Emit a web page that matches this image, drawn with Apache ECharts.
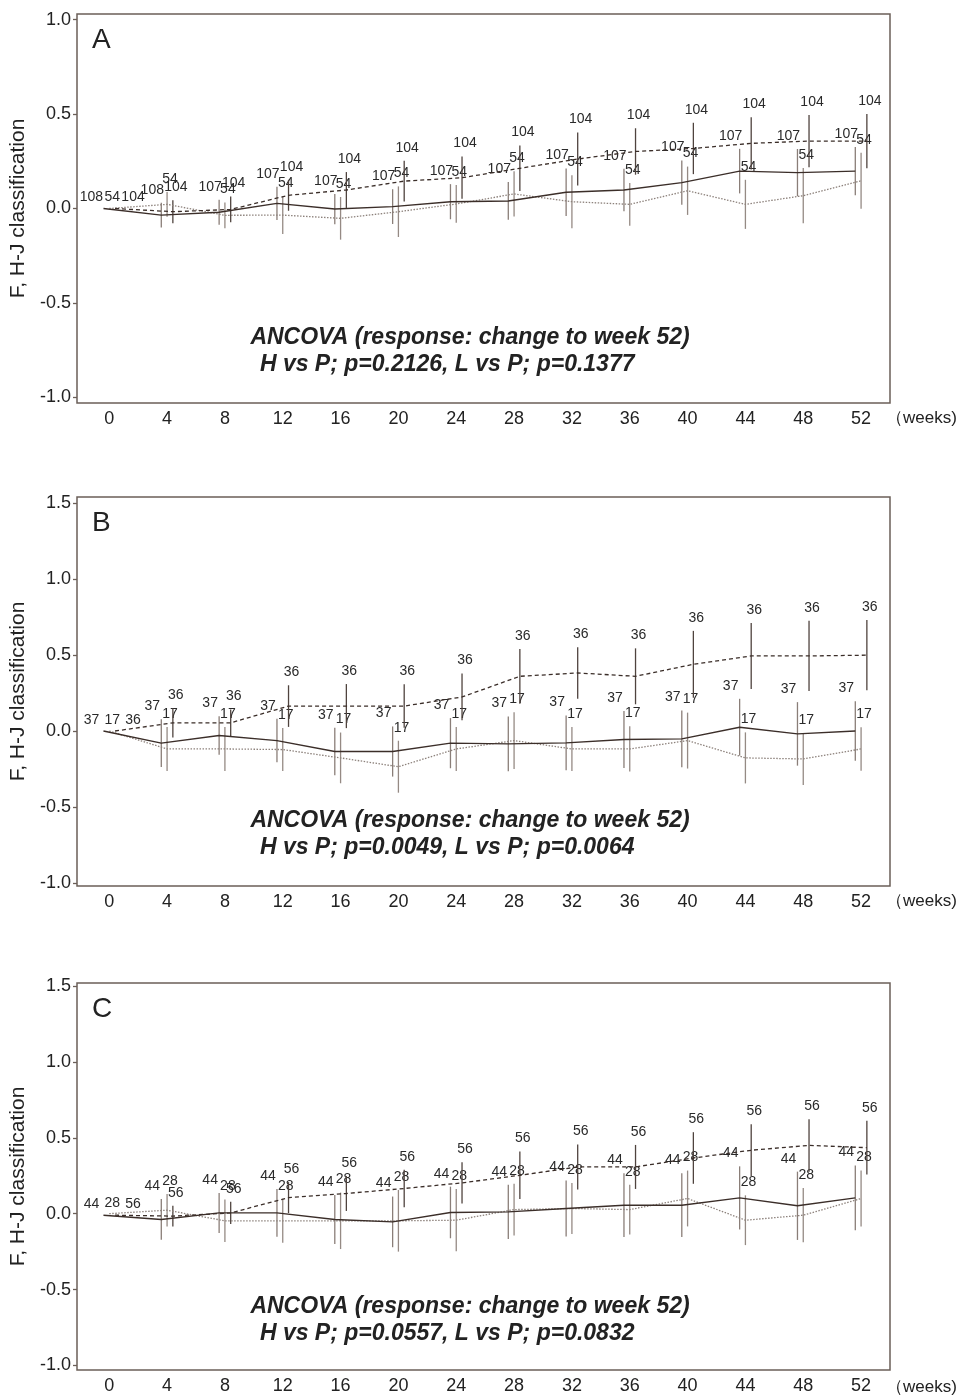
<!DOCTYPE html>
<html><head><meta charset="utf-8">
<script src="https://cdn.jsdelivr.net/npm/echarts@6/dist/echarts.min.js"></script>
<style>html,body{margin:0;padding:0;background:#fff}#c{width:960px;height:1395px}</style>
</head><body><div id="c"></div>
<script>
// ---------------- DATA ----------------
const weeks = [0,4,8,12,16,20,24,28,32,36,40,44,48,52];
const xTickLabels = [0,4,8,12,16,20,24,28,32,36,40,44,48,52];
const yTicksA = [-1,-0.5,0,0.5,1];
const yTicksBC = [-1,-0.5,0,0.5,1,1.5];
const yAxisTitle = 'F, H-J classification';
const unitLabel = '（weeks)';
const panelLetters = ['A','B','C'];
const ancovaTitle = 'ANCOVA (response: change to week 52)';
const pValueLines = [
  ' H vs P; p=0.2126, L vs P; p=0.1377',
  ' H vs P; p=0.0049, L vs P; p=0.0064',
  ' H vs P; p=0.0557, L vs P; p=0.0832'
];

// Panel A  (L = solid, P = dotted, H = dashed)
const A_L_mean = [0,-0.035,-0.02,0.027,-0.003,0.01,0.036,0.04,0.086,0.098,0.137,0.198,0.19,0.198];
const A_L_err  = [0,0.066,0.066,0.088,0.08,0.092,0.093,0.1,0.126,0.112,0.117,0.118,0.125,0.128];
const A_L_n    = [108,108,107,107,107,107,107,107,107,107,107,107,107,107];
const A_P_mean = [0,0.022,-0.036,-0.035,-0.052,-0.017,0.024,0.077,0.036,0.022,0.094,0.022,0.068,0.147];
const A_P_err  = [0,0.066,0.068,0.1,0.113,0.134,0.1,0.12,0.14,0.113,0.128,0.13,0.146,0.148];
const A_P_n    = [54,54,54,54,54,54,54,54,54,54,54,54,54,54];
const A_H_mean = [0,-0.017,-0.005,0.07,0.098,0.145,0.163,0.213,0.262,0.302,0.318,0.345,0.357,0.357];
const A_H_err  = [0,0.061,0.068,0.082,0.095,0.108,0.112,0.12,0.14,0.123,0.136,0.138,0.138,0.144];
const A_H_n    = [104,104,104,104,104,104,104,104,104,104,104,104,104,104];

// Panel B
const B_L_mean = [0,-0.08,-0.03,-0.063,-0.135,-0.135,-0.08,-0.085,-0.078,-0.056,-0.052,0.025,-0.019,0];
const B_L_err  = [0,0.157,0.127,0.143,0.156,0.165,0.165,0.18,0.18,0.187,0.187,0.187,0.209,0.196];
const B_L_n    = [37,37,37,37,37,37,37,37,37,37,37,37,37,37];
const B_P_mean = [0,-0.118,-0.118,-0.122,-0.177,-0.235,-0.118,-0.063,-0.118,-0.118,-0.063,-0.177,-0.184,-0.118];
const B_P_err  = [0,0.145,0.145,0.141,0.167,0.171,0.145,0.187,0.145,0.149,0.184,0.168,0.171,0.143];
const B_P_n    = [17,17,17,17,17,17,17,17,17,17,17,17,17,17];
const B_H_mean = [0,0.054,0.054,0.164,0.164,0.164,0.224,0.36,0.382,0.36,0.439,0.494,0.494,0.499];
const B_H_err  = [0,0.096,0.088,0.137,0.145,0.143,0.154,0.18,0.17,0.184,0.22,0.217,0.231,0.231];
const B_H_n    = [36,36,36,36,36,36,36,36,36,36,36,36,36,36];

// Panel C
const C_L_mean = [-0.01,-0.038,0.005,0.005,-0.038,-0.054,0.008,0.012,0.034,0.056,0.056,0.104,0.052,0.104];
const C_L_err  = [0,0.134,0.132,0.157,0.161,0.167,0.17,0.178,0.184,0.21,0.21,0.208,0.225,0.213];
const C_L_n    = [44,44,44,44,44,44,44,44,44,44,44,44,44,44];
const C_P_mean = [0,0.023,-0.047,-0.047,-0.047,-0.047,-0.043,0.027,0.034,0.027,0.1,-0.043,-0.01,0.1];
const C_P_err  = [0,0.107,0.14,0.145,0.186,0.203,0.205,0.17,0.168,0.164,0.184,0.164,0.179,0.184];
const C_P_n    = [28,28,28,28,28,28,28,28,28,28,28,28,28,28];
const C_H_mean = [-0.01,-0.016,0.005,0.106,0.133,0.166,0.203,0.253,0.308,0.308,0.367,0.418,0.45,0.435];
const C_H_err  = [0,0.068,0.073,0.102,0.115,0.123,0.136,0.157,0.148,0.145,0.17,0.171,0.173,0.177];
const C_H_n    = [56,56,56,56,56,56,56,56,56,56,56,56,56,56];

// ---------------- STYLE / LAYOUT ----------------
const FONT = '"Liberation Sans", Arial, Helvetica, sans-serif';
const BOX = '#6b5f58';
const GRID_LEFT = 77, GRID_W = 813, GRID_H = 389;
const panelTops = [14, 497, 983];
const yRanges = [[-1.03, 1.03], [-1.02, 1.54], [-1.03, 1.52]];
const yTickSets = [yTicksA, yTicksBC, yTicksBC];
const X_MIN = -2.23, X_MAX = 54;

const groupStyles = {
  L: {dodge: -0.4, line: {color: '#3b2e29', width: 1.4, type: 'solid'}, bar: '#8a7e78', labelDx: -9, zeroDx: -12},
  P: {dodge: 0,    line: {color: '#8d827c', width: 1.3, type: [1.5, 1.5]}, bar: '#958a84', labelDx: 3, zeroDx: 3},
  H: {dodge: 0.4,  line: {color: '#3b2e29', width: 1.3, type: [4, 3]}, bar: '#4f433e', labelDx: 3, zeroDx: 18}
};

const panelData = [
  {L: [A_L_mean, A_L_err, A_L_n], P: [A_P_mean, A_P_err, A_P_n], H: [A_H_mean, A_H_err, A_H_n]},
  {L: [B_L_mean, B_L_err, B_L_n], P: [B_P_mean, B_P_err, B_P_n], H: [B_H_mean, B_H_err, B_H_n]},
  {L: [C_L_mean, C_L_err, C_L_n], P: [C_P_mean, C_P_err, C_P_n], H: [C_H_mean, C_H_err, C_H_n]}
];

function makeErrRender(st) {
  return function (params, api) {
    const w = api.value(0), m = api.value(1), e = api.value(2), n = api.value(3);
    const top = api.coord([w + st.dodge, m + e]);
    const bot = api.coord([w + st.dodge, m - e]);
    const children = [];
    if (e > 0) {
      children.push({type: 'line', shape: {x1: top[0], y1: top[1], x2: bot[0], y2: bot[1]},
        style: {stroke: st.bar, lineWidth: 1.3}});
    }
    children.push({type: 'text', x: top[0] + (e > 0 ? st.labelDx : st.zeroDx), y: top[1] - (e > 0 ? 6 : 4),
      style: {text: String(n), align: 'center', verticalAlign: 'bottom',
        fontSize: 14, fontFamily: FONT, fill: '#2a2a2a'}});
    return {type: 'group', children};
  };
}

const grids = [], xAxes = [], yAxes = [], series = [], graphics = [];
panelTops.forEach((top, i) => {
  grids.push({left: GRID_LEFT, top: top, width: GRID_W, height: GRID_H, show: true,
    borderColor: BOX, borderWidth: 1.5, backgroundColor: 'transparent'});
  xAxes.push({gridIndex: i, type: 'value', min: X_MIN, max: X_MAX,
    axisLine: {show: false, onZero: false}, axisTick: {show: false}, splitLine: {show: false},
    axisLabel: {customValues: xTickLabels, margin: 7, fontSize: 18, color: '#222', fontFamily: FONT}});
  yAxes.push({gridIndex: i, type: 'value', min: yRanges[i][0], max: yRanges[i][1],
    name: yAxisTitle, nameLocation: 'middle', nameGap: 46,
    nameTextStyle: {fontSize: 21, color: '#222', fontFamily: FONT},
    axisLine: {show: false, onZero: false}, splitLine: {show: false},
    axisTick: {show: true, customValues: yTickSets[i], length: 4, lineStyle: {color: BOX, width: 1.3}},
    axisLabel: {customValues: yTickSets[i], margin: 6, fontSize: 18, color: '#222', fontFamily: FONT,
      formatter: v => Number(v).toFixed(1)}});
  ['P', 'L', 'H'].forEach(g => {
    const st = groupStyles[g];
    const [mean, err, n] = panelData[i][g];
    series.push({type: 'custom', xAxisIndex: i, yAxisIndex: i, renderItem: makeErrRender(st),
      data: weeks.map((w, k) => [w, mean[k], err[k], n[k]]), encode: {x: 0, y: 1}, z: 2, silent: true});
    series.push({type: 'line', xAxisIndex: i, yAxisIndex: i, symbol: 'none', silent: true, z: 3,
      lineStyle: st.line, data: weeks.map((w, k) => [w + st.dodge, mean[k]])});
  });
  graphics.push({type: 'text', left: 92, top: top + 12,
    style: {text: panelLetters[i], fontSize: 28, fontFamily: FONT, fill: '#222'}});
  graphics.push({type: 'text', x: 470, y: top + 324,
    style: {text: ancovaTitle, align: 'center', verticalAlign: 'middle', fontSize: 23,
      fontWeight: 'bold', fontStyle: 'italic', fontFamily: FONT, fill: '#222'}});
  graphics.push({type: 'text', x: 444, y: top + 351,
    style: {text: pValueLines[i], align: 'center', verticalAlign: 'middle', fontSize: 23,
      fontWeight: 'bold', fontStyle: 'italic', fontFamily: FONT, fill: '#222'}});
  graphics.push({type: 'text', x: 886, y: top + GRID_H + 15,
    style: {text: unitLabel, align: 'left', verticalAlign: 'middle', fontSize: 17, fontFamily: FONT, fill: '#222'}});
});

const chart = echarts.init(document.getElementById('c'), null, {renderer: 'canvas'});
chart.setOption({
  animation: false,
  backgroundColor: '#fff',
  grid: grids, xAxis: xAxes, yAxis: yAxes, series: series, graphic: graphics
});
</script>
</body></html>
